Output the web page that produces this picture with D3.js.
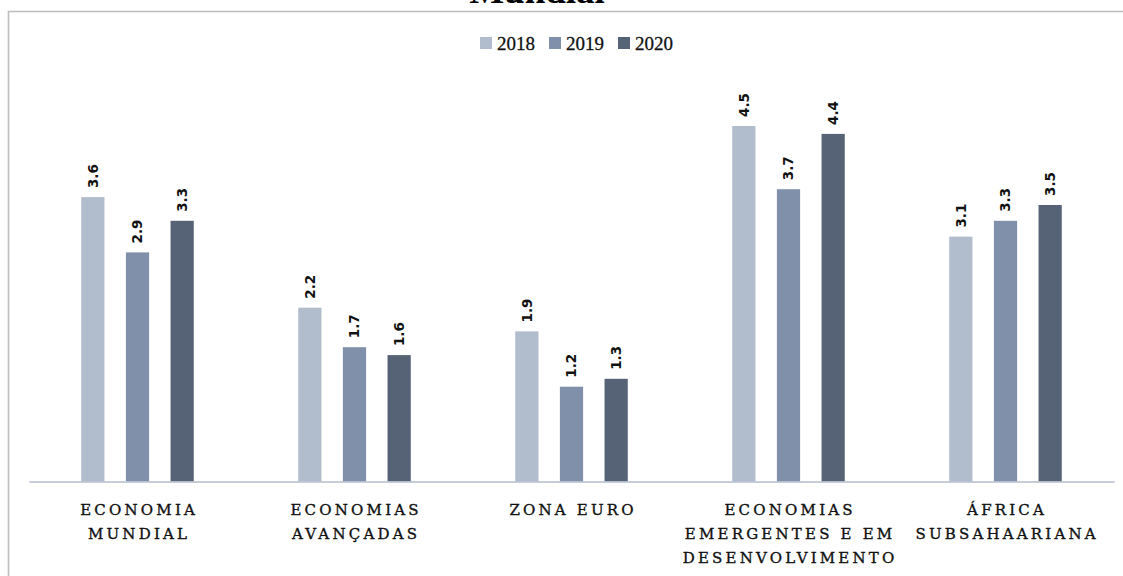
<!DOCTYPE html>
<html>
<head>
<meta charset="utf-8">
<script src="https://cdn.jsdelivr.net/npm/d3@7/dist/d3.min.js"></script>
<style>
  html, body { margin: 0; padding: 0; background: #fff; }
  svg { display: block; }
</style>
</head>
<body>
<svg id="chart" width="1123" height="576"></svg>
<script>
// Growth projections (%) by region, 2018–2020
const categories = [
  ["ECONOMIA", "MUNDIAL"],
  ["ECONOMIAS", "AVANÇADAS"],
  ["ZONA EURO"],
  ["ECONOMIAS", "EMERGENTES E EM", "DESENVOLVIMENTO"],
  ["ÁFRICA", "SUBSAHAARIANA"]
];
const years = ["2018", "2019", "2020"];
const values2018 = [3.6, 2.2, 1.9, 4.5, 3.1];
const values2019 = [2.9, 1.7, 1.2, 3.7, 3.3];
const values2020 = [3.3, 1.6, 1.3, 4.4, 3.5];
const yearColors = ["#b1bccc", "#8190aa", "#566275"];

const series = [values2018, values2019, values2020];
const catKeys = categories.map(c => c.join(" "));
const rows = catKeys.map((k, i) => ({
  key: k,
  lines: categories[i],
  vals: years.map((y, j) => ({ key: k, year: y, value: series[j][i] }))
}));

const svg = d3.select("#chart");

// frame
svg.append("path")
  .attr("d", "M8.5,576 V11.5 H1123")
  .attr("fill", "none")
  .attr("stroke", "#bdbdbd")
  .attr("stroke-width", 1.6);

// title (its second line sits at the very top edge)
svg.append("text")
  .attr("x", 537).attr("y", 3)
  .attr("text-anchor", "middle")
  .attr("font-family", "Liberation Serif, serif")
  .attr("font-weight", "bold")
  .attr("font-size", 37)
  .attr("fill", "#000")
  .text("Mundial");

const x0 = d3.scaleBand().domain(catKeys).range([29, 1114]).padding(0);
const x1 = d3.scaleBand().domain(years).range([0, x0.bandwidth()])
  .paddingInner(0.48).paddingOuter(1.17);
const y = d3.scaleLinear().domain([0, 5]).range([481.5, 86.5]);
const color = d3.scaleOrdinal().domain(years).range(yearColors);

const allVals = rows.flatMap(r => r.vals);
const cx = d => x0(d.key) + x1(d.year) + x1.bandwidth() / 2;

// bars
svg.append("g").selectAll("rect").data(allVals).join("rect")
  .attr("x", d => x0(d.key) + x1(d.year))
  .attr("y", d => y(d.value))
  .attr("width", x1.bandwidth())
  .attr("height", d => y(0) - y(d.value))
  .attr("fill", d => color(d.year));

// value labels, reading bottom to top
svg.append("g").selectAll("text").data(allVals).join("text")
  .attr("x", d => cx(d))
  .attr("y", d => y(d.value) - 9)
  .attr("transform", d => `rotate(-90 ${cx(d)} ${y(d.value) - 9})`)
  .attr("dy", "0.36em")
  .attr("text-anchor", "start")
  .attr("font-family", "DejaVu Sans, Verdana, sans-serif")
  .attr("font-weight", "bold")
  .attr("font-size", 13.5)
  .attr("fill", "#111")
  .text(d => d.value.toFixed(1));

// category axis
const xAxis = d3.axisBottom(x0).tickSize(0).tickFormat("");
const axisG = svg.append("g").attr("transform", `translate(0,${y(0)})`).call(xAxis);
axisG.select(".domain").attr("stroke", "#b3bccb").attr("stroke-width", 1.4);

const spacing = 3.2;
axisG.selectAll(".tick").each(function (k) {
  const row = rows.find(r => r.key === k);
  const t = d3.select(this).append("text")
    .attr("text-anchor", "middle")
    .attr("font-family", "DejaVu Serif, serif")
    .attr("font-size", 15)
    .attr("letter-spacing", spacing)
    .attr("fill", "#111")
    .attr("stroke", "#111")
    .attr("stroke-width", 0.35);
  row.lines.forEach((line, i) => {
    t.append("tspan")
      .attr("x", spacing / 2)
      .attr("y", 33.5 + i * 24.2)
      .text(line);
  });
});

// legend
const legend = svg.append("g").attr("transform", "translate(480,37)");
const item = legend.selectAll("g").data(years).join("g")
  .attr("transform", (d, i) => `translate(${i * 69},0)`);
item.append("rect")
  .attr("width", 12).attr("height", 12)
  .attr("fill", d => color(d));
item.append("text")
  .attr("x", 17).attr("y", 12.5)
  .attr("font-family", "Liberation Serif, serif")
  .attr("font-size", 19)
  .attr("fill", "#111")
  .attr("stroke", "#111")
  .attr("stroke-width", 0.3)
  .text(d => d);
</script>
</body>
</html>
